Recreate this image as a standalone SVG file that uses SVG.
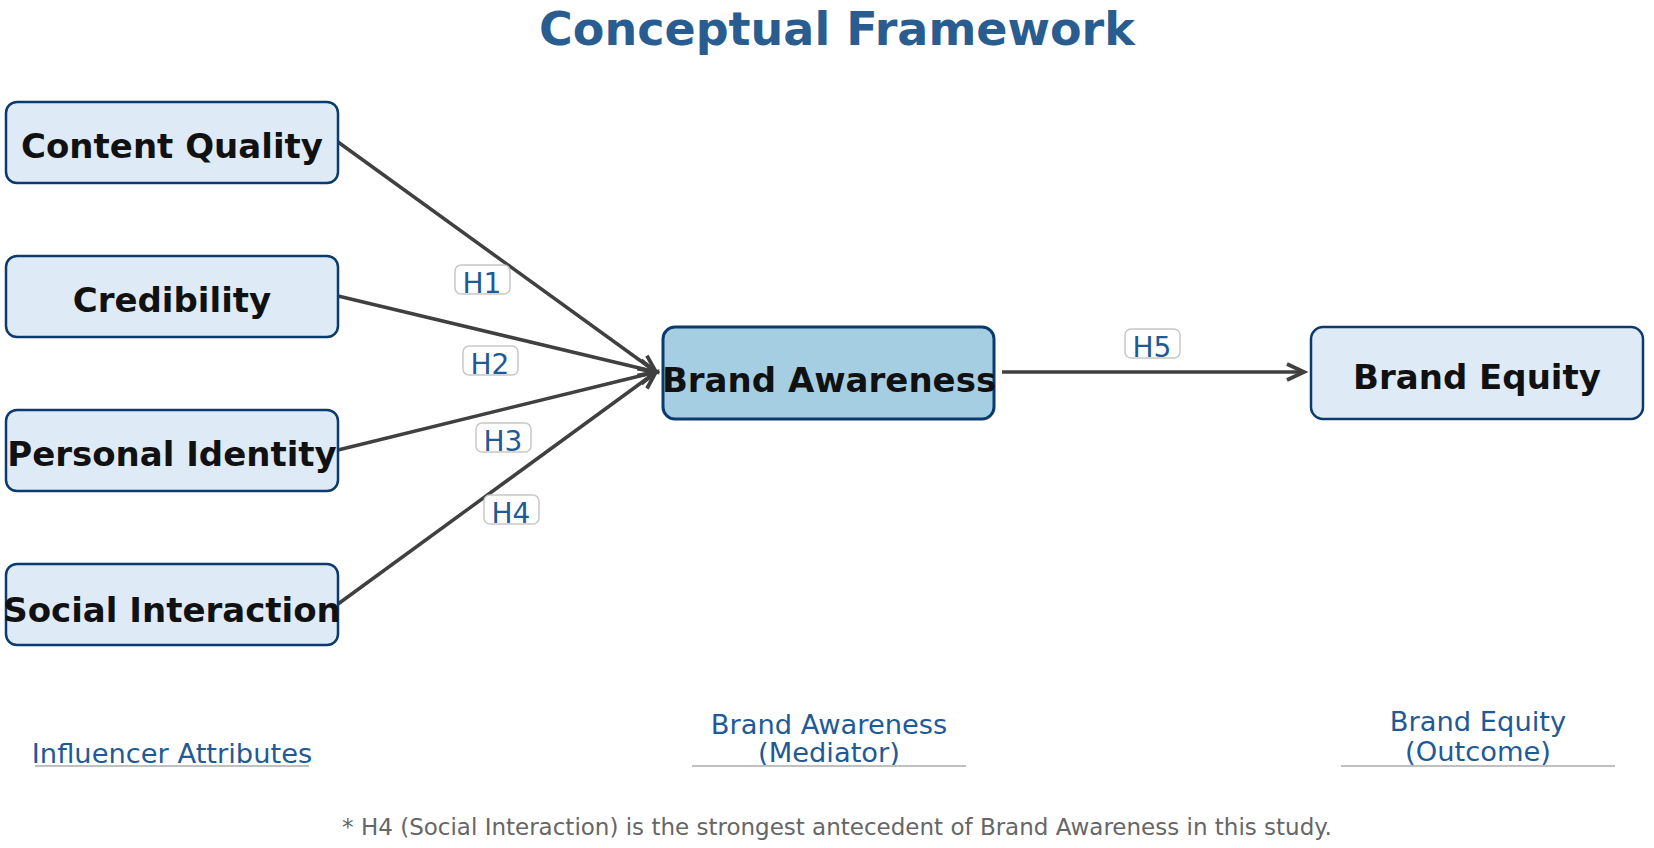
<svg xmlns="http://www.w3.org/2000/svg" width="1654" height="848" viewBox="0 0 1654 848">
<style>
  .node rect { fill: #deebf7; stroke: #0b3a6e; stroke-width: 2.5; }
  .node.mid rect { fill: #a6cee3; stroke-width: 3; }
  .node text { font-family: "DejaVu Sans", sans-serif; font-weight: bold; font-size: 34px; fill: #111111; text-anchor: middle; }
  .conn line { stroke: #404040; stroke-width: 3.5; }
  .lbl rect { fill: #ffffff; stroke: #c8c8c8; stroke-width: 1.5; }
  .lbl text { font-family: "DejaVu Sans", sans-serif; font-size: 28px; fill: #1f5a96; text-anchor: middle; }
  .cap text { font-family: "DejaVu Sans", sans-serif; font-size: 27.3px; fill: #1f5a96; text-anchor: middle; }
  .cap line { stroke: #c0c0c0; stroke-width: 2; }
  .title { font-family: "DejaVu Sans", sans-serif; font-weight: bold; font-size: 46px; fill: #2a5d8f; text-anchor: middle; }
  .note { font-family: "DejaVu Sans", sans-serif; font-size: 23px; fill: #666666; text-anchor: middle; }
</style>
<defs>
  <marker id="arr" markerUnits="userSpaceOnUse" markerWidth="30" markerHeight="30" refX="18" refY="10" orient="auto" viewBox="0 0 30 20">
    <path d="M1,2 L18,10 L1,18" fill="none" stroke="#404040" stroke-width="3.8" stroke-linejoin="miter"/>
  </marker>
</defs>
<rect width="1654" height="848" fill="#ffffff"/>
<text class="title" x="837" y="45">Conceptual Framework</text>

<g id="connectors" class="conn">
  <line x1="338" y1="142" x2="656" y2="372" marker-end="url(#arr)"/>
  <line x1="338" y1="296" x2="656" y2="372" marker-end="url(#arr)"/>
  <line x1="338" y1="450" x2="656" y2="372" marker-end="url(#arr)"/>
  <line x1="338" y1="604" x2="656" y2="372" marker-end="url(#arr)"/>
  <line x1="1002" y1="372" x2="1304" y2="372" marker-end="url(#arr)"/>
</g>

<g id="labels">
  <g id="lbl-h1" class="lbl"><rect x="455" y="265" width="55" height="29" rx="6"/><text x="482" y="293">H1</text></g>
  <g id="lbl-h2" class="lbl"><rect x="463" y="346" width="55" height="29" rx="6"/><text x="490" y="374">H2</text></g>
  <g id="lbl-h3" class="lbl"><rect x="476" y="423" width="55" height="29" rx="6"/><text x="503" y="451">H3</text></g>
  <g id="lbl-h4" class="lbl"><rect x="484" y="495" width="55" height="29" rx="6"/><text x="511" y="523">H4</text></g>
  <g id="lbl-h5" class="lbl"><rect x="1125" y="329" width="55" height="29" rx="6"/><text x="1152" y="357">H5</text></g>
</g>

<g id="node-content-quality" class="node"><rect x="6" y="102" width="332" height="81" rx="11"/><text x="172" y="158">Content Quality</text></g>
<g id="node-credibility" class="node"><rect x="6" y="256" width="332" height="81" rx="11"/><text x="172" y="312">Credibility</text></g>
<g id="node-personal-identity" class="node"><rect x="6" y="410" width="332" height="81" rx="11"/><text x="172" y="466">Personal Identity</text></g>
<g id="node-social-interaction" class="node"><rect x="6" y="564" width="332" height="81" rx="11"/><text x="172" y="622">Social Interaction</text></g>
<g id="node-brand-awareness" class="node mid"><rect x="663" y="327" width="331" height="92" rx="12"/><text x="829" y="392">Brand Awareness</text></g>
<g id="node-brand-equity" class="node"><rect x="1311" y="327" width="332" height="92" rx="12"/><text x="1477" y="389">Brand Equity</text></g>

<g id="cap-influencer" class="cap"><text x="172" y="763">Influencer Attributes</text><line x1="35" y1="766" x2="309" y2="766"/></g>
<g id="cap-mediator" class="cap"><text x="829" y="734">Brand Awareness</text><text x="829" y="762">(Mediator)</text><line x1="692" y1="766" x2="966" y2="766"/></g>
<g id="cap-outcome" class="cap"><text x="1478" y="731">Brand Equity</text><text x="1478" y="761">(Outcome)</text><line x1="1341" y1="766" x2="1615" y2="766"/></g>

<text class="note" x="837" y="835">* H4 (Social Interaction) is the strongest antecedent of Brand Awareness in this study.</text>
</svg>
